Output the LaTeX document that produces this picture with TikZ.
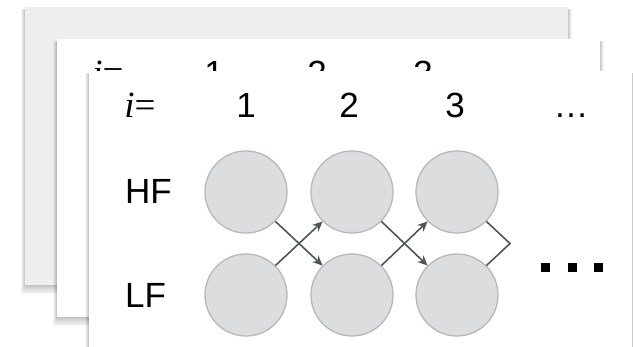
\documentclass[tikz,border=0pt]{standalone}
\usepackage{fontspec}
\setmainfont{Liberation Sans}
\newfontfamily\serifit{Liberation Serif}
\usetikzlibrary{arrows.meta}
\definecolor{circfill}{HTML}{DCDDDF}
\definecolor{circline}{HTML}{B8B8B8}
\definecolor{arr}{HTML}{50555B}
\definecolor{backsheet}{HTML}{EEEEEE}
\tikzset{
  cell/.style={circle, minimum size=82pt, inner sep=0pt, fill=circfill, draw=circline, line width=1.3pt},
  lbl/.style={font=\fontsize{35}{40}\selectfont, inner sep=0pt},
  ilbl/.style={font=\fontsize{37}{40}\selectfont\serifit, inner sep=0pt},
  conn/.style={draw=arr, line width=1.6pt, -{Stealth[length=10pt,width=9pt]}},
  plainconn/.style={draw=arr, line width=1.6pt},
  sq/.style={fill=black, minimum size=9pt, inner sep=0pt},
}
\newcommand{\sheetshadow}[4]{%
  \foreach \k in {1,...,8}{%
    \fill[black, opacity=0.03] (#1-\k*0.45,#2+2) rectangle (#3+\k*0.45,#4+\k*1.1);
  }%
}
\begin{document}
\begin{tikzpicture}[x=1pt,y=-1pt]
\useasboundingbox (0,0) rectangle (633,347);
\clip (0,0) rectangle (633,347);
\fill[white] (0,0) rectangle (633,347);
% back sheet
\sheetshadow{25}{7}{568}{285}
\fill[backsheet] (25,7) rectangle (568,285);
% middle sheet
\sheetshadow{57}{39}{600}{317}
\fill[white] (57,39) rectangle (600,317);
\node[ilbl, anchor=base] (mi) at (108,86) {\itshape i\upshape=};
\node[lbl, anchor=base] (m1) at (214,86) {1};
\node[lbl, anchor=base] (m2) at (317,86) {2};
\node[lbl, anchor=base] (m3) at (423,86) {3};
% front sheet
\sheetshadow{89}{71}{632}{360}
\fill[white] (89,71) rectangle (632,360);
\node[ilbl, anchor=base] (fi) at (140,118) {\itshape i\upshape=};
\node[lbl, anchor=base] (f1) at (246,118) {1};
\node[lbl, anchor=base] (f2) at (349,118) {2};
\node[lbl, anchor=base] (f3) at (455,118) {3};
\node[lbl, anchor=base] (fd) at (571,118) {\dots};
\node[lbl, anchor=base west] (hf) at (125,204) {HF};
\node[lbl, anchor=base west] (lf) at (125,308) {LF};
\node[cell] (h1) at (246,192) {};
\node[cell] (h2) at (352,192) {};
\node[cell] (h3) at (457,192) {};
\node[cell] (l1) at (246,295) {};
\node[cell] (l2) at (352,295) {};
\node[cell] (l3) at (457,295) {};
\draw[conn] (h1.-45) -- (l2.135);
\draw[conn] (l1.45) -- (h2.-135);
\draw[conn] (h2.-45) -- (l3.135);
\draw[conn] (l2.45) -- (h3.-135);
\coordinate (k) at (510,243.5);
\draw[plainconn] (h3.-45) -- (k) -- (l3.45);
\node[sq] (s1) at (545,268) {};
\node[sq] (s2) at (572,268) {};
\node[sq] (s3) at (598,268) {};
\end{tikzpicture}
\end{document}
